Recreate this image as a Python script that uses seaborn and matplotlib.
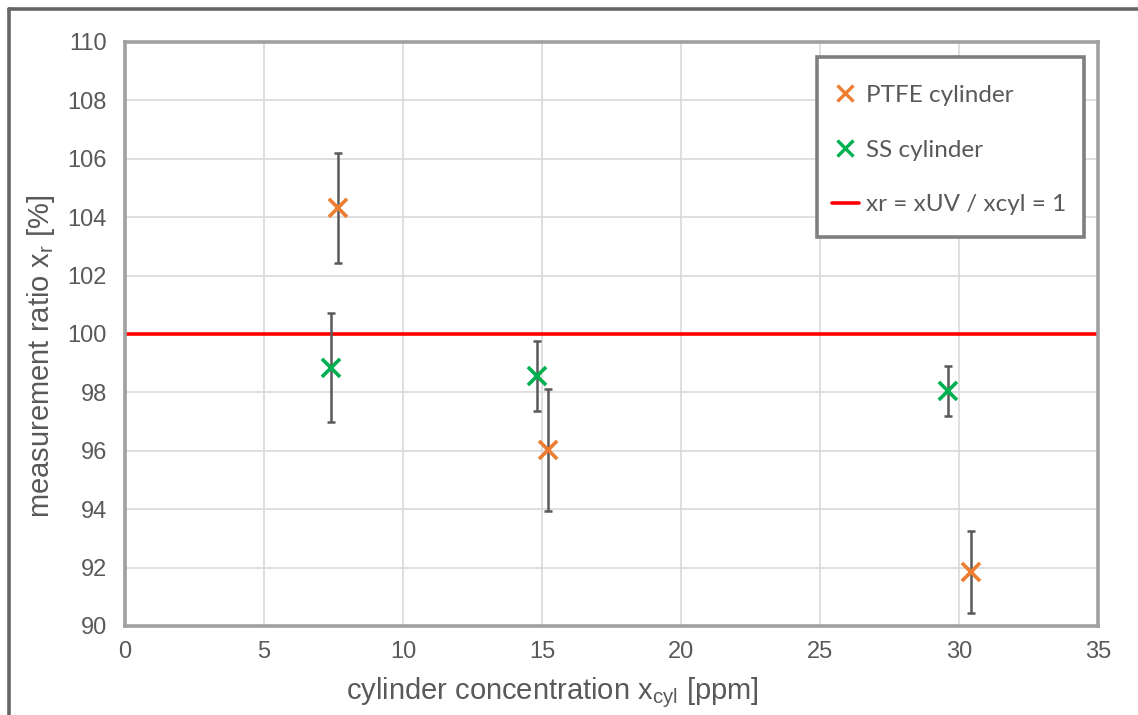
import matplotlib
matplotlib.use("Agg")
import matplotlib.pyplot as plt
from matplotlib.lines import Line2D
from matplotlib.patches import Rectangle
import seaborn as sns
import pandas as pd

# Measured data: cylinder concentration [ppm], ratio [%], expanded uncertainty [%]
ptfe_x = [7.66, 15.22, 30.43]
ptfe_y = [104.32, 96.03, 91.85]
ptfe_err = [1.88, 2.09, 1.42]

ss_x = [7.41, 14.82, 29.60]
ss_y = [98.84, 98.56, 98.05]
ss_err = [1.87, 1.20, 0.86]

series_names = ["PTFE cylinder", "SS cylinder"]
reference_label = "xr = xUV / xcyl = 1"
reference_value = 100

x_ticks = [0, 5, 10, 15, 20, 25, 30, 35]
y_ticks = [90, 92, 94, 96, 98, 100, 102, 104, 106, 108, 110]

ORANGE = "#ED7D31"
GREEN = "#00B050"
RED = "#FF0000"
TXT = "#595959"

sns.set_theme(style="white")
plt.rcParams["font.family"] = ["Liberation Sans", "DejaVu Sans"]
plt.rcParams["mathtext.fontset"] = "custom"
plt.rcParams["mathtext.rm"] = "Liberation Sans"

df = pd.concat([
    pd.DataFrame({"x": ptfe_x, "y": ptfe_y, "err": ptfe_err, "series": series_names[0]}),
    pd.DataFrame({"x": ss_x, "y": ss_y, "err": ss_err, "series": series_names[1]}),
], ignore_index=True)

W, H = 1138, 715
fig = plt.figure(figsize=(W / 100, H / 100), dpi=100)
ax = fig.add_axes([125 / W, 1 - 626 / H, (1098 - 125) / W, (626 - 42) / H])

ax.set_xlim(0, 35)
ax.set_ylim(90, 110)
ax.set_xticks(x_ticks)
ax.set_yticks(y_ticks)
ax.grid(True, color="#D9D9D9", linewidth=1.2)
ax.set_axisbelow(True)

# reference line at ratio = 100 %
ax.axhline(reference_value, color=RED, linewidth=2.6, zorder=2)

# uncertainty bars
ax.errorbar(df["x"], df["y"], yerr=df["err"], fmt="none", ecolor="#595959",
            elinewidth=1.8, capsize=3.2, capthick=1.8, zorder=3)

sns.scatterplot(data=df, x="x", y="y", hue="series", palette=[ORANGE, GREEN],
                marker="x", s=170, linewidth=2.6, ax=ax, legend=False, zorder=4)

for side in ["left", "right", "top", "bottom"]:
    ax.spines[side].set_color("#A0A0A0")
    ax.spines[side].set_linewidth(2.6)

ax.tick_params(axis="both", length=0, labelsize=17, labelcolor=TXT)
ax.tick_params(axis="y", pad=13)
ax.tick_params(axis="x", pad=11)

ax.set_xlabel(r"cylinder concentration x$\mathregular{_{cyl}}$ [ppm]",
              fontsize=21, color=TXT, labelpad=6)
ax.set_ylabel(r"measurement ratio x$\mathregular{_{r}}$ [%]",
              fontsize=21, color=TXT, labelpad=8)
ax.xaxis.set_label_coords(0.439, -0.085)
ax.yaxis.set_label_coords(-0.0696, 0.462)

# legend: frame drawn as a patch, entries placed inside it
frame = Rectangle((0.7112, 0.6661), 0.9856 - 0.7112, 0.9743 - 0.6661,
                  transform=ax.transAxes, facecolor="white", edgecolor="#7F7F7F",
                  linewidth=2.6, zorder=5)
ax.add_patch(frame)

handles = [
    Line2D([], [], linestyle="none", marker="x", color=ORANGE, markersize=12, markeredgewidth=2.4),
    Line2D([], [], linestyle="none", marker="x", color=GREEN, markersize=12, markeredgewidth=2.4),
    Line2D([], [], color=RED, linewidth=2.6),
]
leg = ax.legend(handles, series_names + [reference_label],
                loc="center left", bbox_to_anchor=(0.7266, 0.815),
                prop={"family": ["Lato", "DejaVu Sans"], "size": 17.5},
                labelcolor=TXT, frameon=False,
                handlelength=1.1, handletextpad=0.3, labelspacing=1.38,
                borderpad=0, borderaxespad=0)
leg.set_zorder(6)

# outer chart frame
fig.add_artist(Line2D([9 / W, 1.0], [1 - 9 / H, 1 - 9 / H],
                      transform=fig.transFigure, color="#666666", linewidth=2.6))
fig.add_artist(Line2D([9 / W, 9 / W], [0.0, 1 - 9 / H],
                      transform=fig.transFigure, color="#666666", linewidth=2.6))

fig.savefig("out.png", dpi=100, facecolor="white")
